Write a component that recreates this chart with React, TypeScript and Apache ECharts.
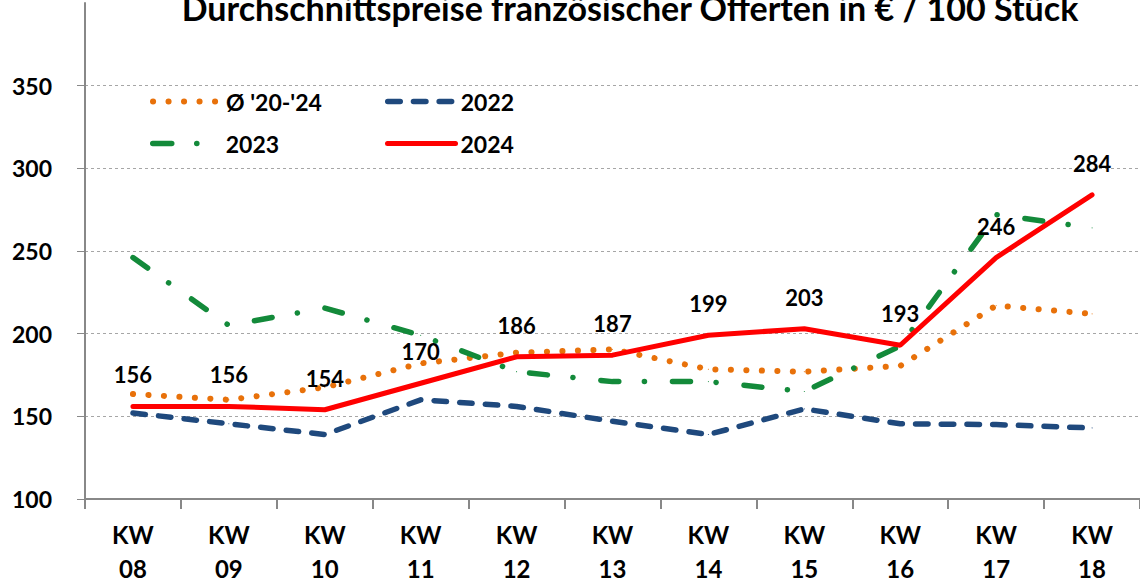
import React, { useEffect, useRef } from "react";
import * as echarts from "echarts";

const categories = ["KW 08", "KW 09", "KW 10", "KW 11", "KW 12", "KW 13", "KW 14", "KW 15", "KW 16", "KW 17", "KW 18"];
const avg2024 = [163.5, 160, 167.5, 182, 188.5, 190.5, 178.5, 177, 180.5, 217, 212];
const s2022 = [152, 145.5, 139, 160, 156, 147, 139, 154.5, 145.5, 145, 143];
const s2023 = [246, 205, 215.5, 199, 177, 171, 171, 165, 192.5, 272, 264];
const s2024 = [156, 156, 154, 170, 186, 187, 199, 203, 193, 246, 284];
const titleText = "Durchschnittspreise französischer Offerten in € / 100 Stück";

const FONT = "Lato, 'Open Sans', sans-serif";

const C_AVG = "#E8710A";
const C_22 = "#1F497D";
const C_23 = "#138A3A";
const C_24 = "#FF0000";

const LS_AVG = { color: C_AVG, width: 6, type: [0.1, 15.4], cap: "round" };
const LS_22 = { color: C_22, width: 5.5, type: [12.5, 13.2], cap: "round" };
const LS_23 = { color: C_23, width: 5.5, type: [18, 25.6, 0.1, 28], cap: "round" };
const LS_24 = { color: C_24, width: 5, type: "solid", cap: "round" };

export default function App() {
  const ref = useRef<HTMLDivElement>(null);
  useEffect(() => {
    document.body.style.margin = "0";
    const chart = echarts.init(ref.current!, null, { renderer: "svg" });
    const legendText = { fontFamily: FONT, fontWeight: "bold", fontSize: 23, color: "#000" };
    const mkLegend = (name: string, left: number, top: number, ls: any) => ({
      data: [name],
      left,
      top,
      itemWidth: 68,
      itemHeight: 14,
      itemGap: 0,
      textStyle: legendText,
      padding: 0,
      itemStyle: { opacity: 0 },
      lineStyle: { ...ls },
    });
    const mkSeries = (name: string, data: number[], ls: any, color: string, z: number) => ({
      name,
      type: "line",
      data,
      symbol: "circle",
      symbolSize: 1,
      showSymbol: true,
      lineStyle: ls,
      itemStyle: { color },
      emphasis: { disabled: true },
      z,
    });
    chart.setOption({
      animation: false,
      textStyle: { fontFamily: FONT },
      graphic: [
        {
          type: "text",
          x: 630,
          y: -10,
          style: {
            text: titleText,
            fill: "#000",
            font: `bold 34px ${FONT}`,
            textAlign: "center",
            textVerticalAlign: "top",
          },
        },
      ],
      legend: [
        mkLegend("Ø '20-'24", 150, 90, LS_AVG),
        mkLegend("2022", 385, 90, LS_22),
        mkLegend("2023", 150, 132, { ...LS_23, type: [19, 25, 0.1, 40] }),
        mkLegend("2024", 385, 132, LS_24),
      ],
      grid: { left: 85, right: -1, top: 3, bottom: 85, containLabel: false },
      xAxis: {
        type: "category",
        data: categories,
        boundaryGap: true,
        axisLine: { lineStyle: { color: "#888", width: 2 } },
        axisTick: { show: true, length: 10, lineStyle: { color: "#888", width: 2 } },
        axisLabel: {
          formatter: (v: string) => v.replace(" ", "\n"),
          fontFamily: FONT,
          fontWeight: "bold",
          fontSize: 24,
          lineHeight: 34,
          color: "#000",
          margin: 18,
        },
        splitLine: { show: false },
      },
      yAxis: {
        type: "value",
        min: 100,
        max: 400,
        interval: 50,
        axisLine: { show: true, lineStyle: { color: "#888", width: 2 } },
        axisTick: { show: true, length: 8, lineStyle: { color: "#888", width: 1 } },
        axisLabel: {
          showMaxLabel: false,
          fontFamily: FONT,
          fontWeight: "bold",
          fontSize: 23,
          color: "#000",
          margin: 33,
        },
        splitLine: {
          show: true,
          showMaxLine: false,
          showMinLine: false,
          lineStyle: { color: "#a6a6a6", type: [3, 3], width: 1 },
        },
      },
      series: [
        mkSeries("Ø '20-'24", avg2024, LS_AVG, C_AVG, 2),
        mkSeries("2022", s2022, LS_22, C_22, 3),
        mkSeries("2023", s2023, LS_23, C_23, 4),
        {
          ...mkSeries("2024", s2024, LS_24, C_24, 5),
          label: {
            show: true,
            position: "top",
            distance: 20,
            fontFamily: FONT,
            fontWeight: "bold",
            fontSize: 22,
            color: "#000",
          },
        },
      ],
    });
    return () => chart.dispose();
  }, []);
  return <div ref={ref} style={{ width: 1140, height: 585 }} />;
}
